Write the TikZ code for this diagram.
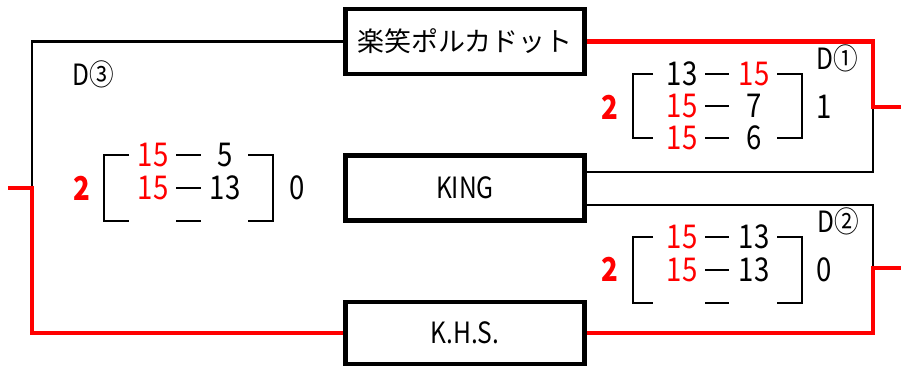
\documentclass[tikz,border=0pt]{standalone}
\usepackage{fontspec}
\setmainfont{Noto Sans CJK JP}
\newfontfamily\narrowfont[FakeStretch=0.84]{Noto Sans CJK JP}
\usetikzlibrary{positioning}

\begin{document}
\begin{tikzpicture}[x=0.03cm,y=-0.03cm]
	\tikzstyle{Team}	= [draw, line width=4.2pt, minimum width=7.17cm, minimum height=1.95cm, inner sep=0pt, font=\fontsize{23}{23}\selectfont]
	\tikzstyle{Win}		= [red, line width=3.8pt]
	\tikzstyle{Lose}	= [black, line width=2.5pt]
	\tikzstyle{Brk}		= [black, line width=1.8pt]
	\tikzstyle{Pt}		= [font=\narrowfont\fontsize{28}{28}\selectfont, inner sep=0pt]
	\tikzstyle{Got}		= [Pt, red]
	\tikzstyle{Tag}		= [font=\narrowfont\fontsize{25}{25}\selectfont, inner sep=0pt]

	\useasboundingbox (0,0) rectangle (901,367);

	% teams
	\node (top) at (465,41.5) [Team] {楽笑ポルカドット};
	\node (king) at (465,188) [Team, font=\narrowfont\fontsize{25}{25}\selectfont] {KING};
	\node (khs) at (465,333) [Team, minimum height=1.86cm, font=\narrowfont\fontsize{25}{25}\selectfont] {K.H.S.};

	% bracket lines
	\coordinate (w3) at (32,188);
	\coordinate (o3) at (8,188);
	\coordinate (e1) at (873,107);
	\coordinate (o1) at (901,107);
	\coordinate (e2) at (873,268);
	\coordinate (o2) at (901,268);

	\draw [Lose] (top.west) -| (w3);
	\draw [Win] (o3) -- (w3) |- (khs.west);
	\draw [Lose] ([yshift=0.48cm]king.east) -| (e1);
	\draw [Lose] ([yshift=-0.51cm]king.east) -| (e2);
	\draw [Win] (top.east) -| (e1) -- (o1);
	\draw [Win] (khs.east) -| (e2) -- (o2);

	% match labels
	\node (d3) at (93,74) [Tag] {D③};
	\node (d1) at (837,58) [Tag] {D①};
	\node (d2) at (838,221) [Tag] {D②};

	% D3 scores
	\node (s3) at (82,188) [Got] {\bfseries 2};
	\node (s3a1) at (153,155) [Got] {15};
	\node (s3b1) at (225,155) [Pt] {5};
	\node (s3a2) at (153,188) [Got] {15};
	\node (s3b2) at (225,188) [Pt] {13};
	\node (r3) at (297,188) [Pt] {0};
	\draw [Brk] (129,155) -- (104,155) -- (104,221) -- (129,221);
	\draw [Brk] (248,155) -- (273,155) -- (273,221) -- (248,221);
	\draw [Brk] (176,155) -- (201,155);
	\draw [Brk] (176,188) -- (201,188);
	\draw [Brk] (176,221) -- (201,221);

	% D1 scores
	\node (s1) at (610,107) [Got] {\bfseries 2};
	\node (s1a1) at (682,74) [Pt] {13};
	\node (s1b1) at (754,74) [Got] {15};
	\node (s1a2) at (682,106) [Got] {15};
	\node (s1b2) at (754,106) [Pt] {7};
	\node (s1a3) at (682,138) [Got] {15};
	\node (s1b3) at (754,138) [Pt] {6};
	\node (r1) at (824,107) [Pt] {1};
	\draw [Brk] (653,74) -- (633,74) -- (633,138) -- (653,138);
	\draw [Brk] (777,74) -- (802,74) -- (802,138) -- (777,138);
	\draw [Brk] (705,74) -- (729,74);
	\draw [Brk] (705,106) -- (729,106);
	\draw [Brk] (705,138) -- (729,138);

	% D2 scores
	\node (s2) at (610,269) [Got] {\bfseries 2};
	\node (s2a1) at (682,237) [Got] {15};
	\node (s2b1) at (754,237) [Pt] {13};
	\node (s2a2) at (682,270) [Got] {15};
	\node (s2b2) at (754,270) [Pt] {13};
	\node (r2) at (824,270) [Pt] {0};
	\draw [Brk] (653,237) -- (633,237) -- (633,303) -- (653,303);
	\draw [Brk] (777,237) -- (802,237) -- (802,303) -- (777,303);
	\draw [Brk] (705,237) -- (729,237);
	\draw [Brk] (705,270) -- (729,270);
	\draw [Brk] (705,303) -- (729,303);
\end{tikzpicture}
\end{document}
